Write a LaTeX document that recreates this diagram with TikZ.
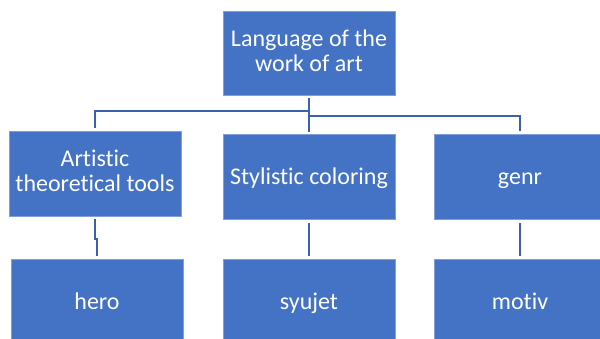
\documentclass[tikz,border=0pt]{standalone}
\usepackage{fontspec}
\setmainfont{Carlito}[Ligatures=NoCommon]
\usepackage{tikz}
\usetikzlibrary{calc}
\definecolor{boxblue}{HTML}{4472C4}
\definecolor{boxedge}{HTML}{7F9FD8}
\definecolor{linkblue}{HTML}{3A62AC}

\begin{document}
\begin{tikzpicture}[x=1pt,y=-1pt,
box/.style={fill=boxblue,draw=boxedge,line width=0.6pt,text=white,align=center,
  minimum width=172pt,minimum height=85pt,inner sep=0pt,
  font=\fontsize{24}{25}\selectfont},
oneline/.style={text height=20pt,text depth=6pt},
twoline/.style={text depth=5pt},
link/.style={draw=linkblue,line width=1.9pt}]
\useasboundingbox (0,0) rectangle (600,338);
\node[box,twoline,minimum height=84pt] (lang) at (309,53) {Language of the\\work of art};
\node[box,twoline] (artistic) at (95,173.5) {Artistic\\theoretical tools};
\node[box,oneline] (stylistic) at (309,177) {Stylistic coloring};
\node[box,oneline] (genr) at (520,177) {genr};
\node[box,oneline] (hero) at (97,302) {hero};
\node[box,oneline] (syujet) at (309,302) {syujet};
\node[box,oneline] (motiv) at (520,302) {motiv};
\draw[link] ([yshift=-3pt]lang.south) -- ([yshift=2pt]stylistic.north);
\draw[link] ([yshift=-16pt]lang.south) -| ([yshift=3pt]artistic.north);
\draw[link] ([yshift=-21pt]lang.south) -| ([yshift=3pt]genr.north);
\draw[link] ([yshift=-3pt]artistic.south) -- ++(0,20) -| ([yshift=3pt]hero.north);
\draw[link] ([yshift=-3pt]stylistic.south) -- ([yshift=3pt]syujet.north);
\draw[link] ([yshift=-3pt]genr.south) -- ([yshift=3pt]motiv.north);
\end{tikzpicture}
\end{document}
